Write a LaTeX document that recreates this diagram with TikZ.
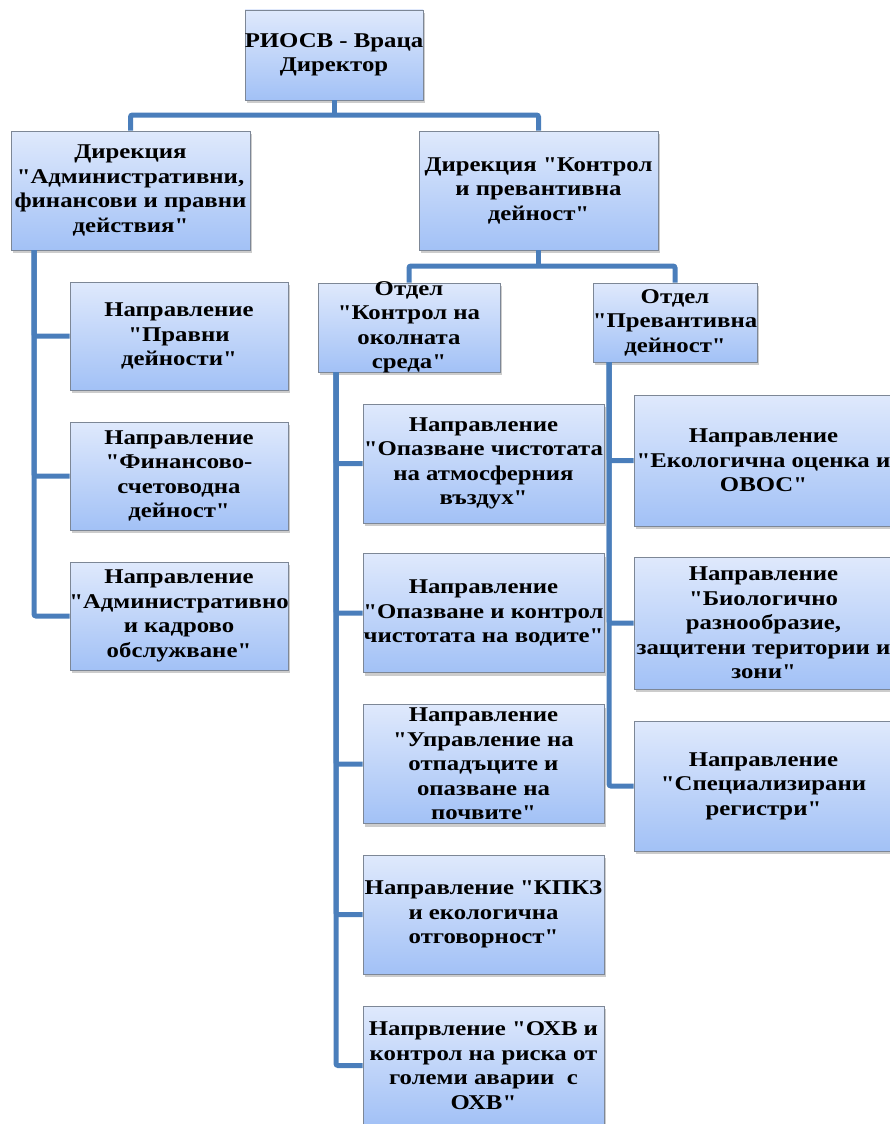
\documentclass[tikz,border=0pt]{standalone}
\usepackage{fontspec}
\setmainfont{Liberation Serif}[FakeStretch=1.18, Ligatures=TeXOff]
\usetikzlibrary{shadows}
\definecolor{boxtop}{RGB}{223,233,252}
\definecolor{boxbot}{RGB}{162,193,246}
\definecolor{boxline}{RGB}{125,135,150}
\definecolor{linkblue}{RGB}{74,126,187}
\tikzset{
  unit/.style={rectangle, draw=boxline, line width=0.8pt, top color=boxtop, bottom color=boxbot,
    drop shadow={shadow xshift=2pt, shadow yshift=-3pt, opacity=0.4}, inner sep=0pt},
  txt/.style={align=center, font=\fontsize{21}{24.5}\selectfont\bfseries, inner sep=0pt},
  link/.style={draw=linkblue, line width=5pt, rounded corners=2pt}
}
\begin{document}
\begin{tikzpicture}[x=1pt, y=-1pt]
	\useasboundingbox (0,0) rectangle (890,1124);
	\node (root) at (334,55) [unit, minimum width=178, minimum height=90, label={[txt]center:{РИОСВ - Враца\\Директор}}] {};
	\node (dirA) at (130.5,190.5) [unit, minimum width=239, minimum height=119, label={[txt]center:{Дирекция\\"Административни,\\финансови и правни\\действия"}}] {};
	\node (dirK) at (538.5,190.5) [unit, minimum width=239, minimum height=119, label={[txt]center:{Дирекция "Контрол\\и превантивна\\дейност"}}] {};
	\node (a1) at (179,336) [unit, minimum width=218, minimum height=108, label={[txt]center:{Направление\\"Правни\\дейности"}}] {};
	\node (a2) at (179,476) [unit, minimum width=218, minimum height=108, label={[txt]center:{Направление\\"Финансово-\\счетоводна\\дейност"}}] {};
	\node (a3) at (179,616) [unit, minimum width=218, minimum height=108, label={[txt]center:{Направление\\"Административно\\и кадрово\\обслужване"}}] {};
	\node (deptK) at (409,327.5) [unit, minimum width=182, minimum height=89, label={[txt]center:{Отдел\\"Контрол на\\околната\\среда"}}] {};
	\node (deptP) at (675,322.5) [unit, minimum width=164, minimum height=79, label={[txt]center:{Отдел\\"Превантивна\\дейност"}}] {};
	\node (k1) at (483.5,463.5) [unit, minimum width=241, minimum height=119, label={[txt]center:{Направление\\"Опазване чистотата\\на атмосферния\\въздух"}}] {};
	\node (k2) at (483.5,613) [unit, minimum width=241, minimum height=119, label={[txt]center:{Направление\\"Опазване и контрол\\чистотата на водите"}}] {};
	\node (k3) at (483.5,764) [unit, minimum width=241, minimum height=119, label={[txt]center:{Направление\\"Управление на\\отпадъците и\\опазване на\\почвите"}}] {};
	\node (k4) at (483.5,914.5) [unit, minimum width=241, minimum height=119, label={[txt]center:{Направление "КПКЗ\\и екологична\\отговорност"}}] {};
	\node (k5) at (483.5,1065.5) [unit, minimum width=241, minimum height=119, label={[txt]center:{Напрвление "ОХВ и\\контрол на риска от\\големи аварии\ \ с\\ОХВ"}}] {};
	\node (p1) at (763.5,460.5) [unit, minimum width=259, minimum height=131, label={[txt]center:{Направление\\"Екологична оценка и\\ОВОС"}}] {};
	\node (p2) at (763.5,623) [unit, minimum width=259, minimum height=132, label={[txt]center:{Направление\\"Биологично\\разнообразие,\\защитени територии и\\зони"}}] {};
	\node (p3) at (763.5,786) [unit, minimum width=259, minimum height=130, label={[txt]center:{Направление\\"Специализирани\\регистри"}}] {};
	% bus and trunk points
	\coordinate (busR) at (334,115);
	\coordinate (busK) at (538.5,266);
	\coordinate (tA) at (34,250);
	\coordinate (tK) at (336,372);
	\coordinate (tP) at (609,362);
	\draw[link] (root.south) -- (busR);
	\draw[link] (dirA.north) |- (busR) -| (dirK.north);
	\draw[link] (dirK.south) -- (busK);
	\draw[link] (deptK.north) |- (busK) -| (deptP.north);
	\draw[link] (tA) |- (a1.west);
	\draw[link] (tA) |- (a2.west);
	\draw[link] (tA) |- (a3.west);
	\draw[link] (tK) |- (k1.west);
	\draw[link] (tK) |- (k2.west);
	\draw[link] (tK) |- (k3.west);
	\draw[link] (tK) |- (k4.west);
	\draw[link] (tK) |- (k5.west);
	\draw[link] (tP) |- (p1.west);
	\draw[link] (tP) |- (p2.west);
	\draw[link] (tP) |- (p3.west);
\end{tikzpicture}
\end{document}
